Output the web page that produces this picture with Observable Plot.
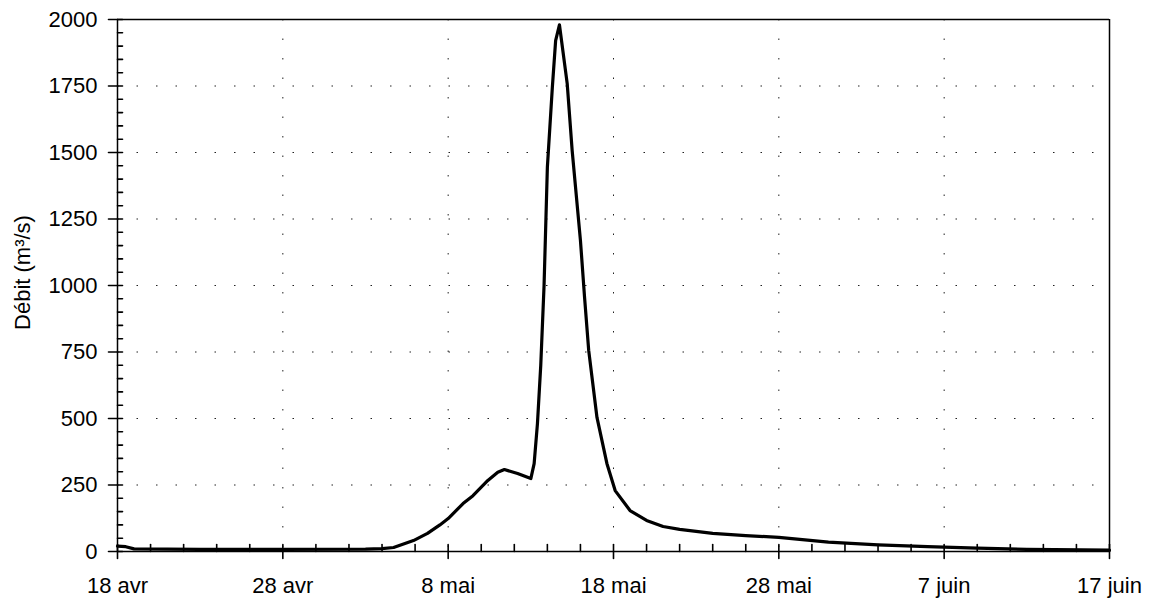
<!DOCTYPE html>
<html><head><meta charset="utf-8">
<script src="https://cdn.jsdelivr.net/npm/d3@7"></script>
<script src="https://cdn.jsdelivr.net/npm/@observablehq/plot@0.6"></script>
<style>body{margin:0;background:#fff;}</style>
</head><body><div id="chart"></div>
<script>
// Days after 18 avril and discharge (m³/s)
const dayOffsets = [0, 0.5, 1, 5, 10, 15, 16, 16.7, 17.9, 18.75, 19.5, 20, 20.9, 21.5, 22.4, 23, 23.4, 24.2, 25.0, 25.2, 25.4, 25.6, 25.8, 26.0, 26.3, 26.5, 26.73, 27.2, 27.5, 28.0, 28.25, 28.5, 29.0, 29.6, 30.1, 31.0, 32.0, 33, 34, 36, 38, 40, 43, 46, 49, 52, 55, 60];
const flows = [20, 18, 10, 8, 8, 9, 11, 15, 41, 68, 100, 124, 180, 210, 267, 298, 308, 293, 274, 330, 481, 700, 1000, 1444, 1744, 1921, 1980, 1759, 1507, 1170, 955, 756, 504, 331, 229, 154, 117, 94, 83, 68, 60, 53, 35, 25, 18, 13, 8, 5];
const xTickDays = [0, 10, 20, 30, 40, 50, 60];
const xTickLabels = ["18 avr", "28 avr", "8 mai", "18 mai", "28 mai", "7 juin", "17 juin"];
const yTicks = [0, 250, 500, 750, 1000, 1250, 1500, 1750, 2000];
const yTickLabels = ["0", "250", "500", "750", "1000", "1250", "1500", "1750", "2000"];
const yLabel = "Débit (m³/s)";

const t0 = Date.UTC(2011, 3, 18);
const toDate = d => new Date(t0 + d * 864e5);
const data = dayOffsets.map((d, i) => ({date: toDate(d), flow: flows[i]}));
const xTickDates = xTickDays.map(toDate);
const labelByTime = new Map(xTickDates.map((d, i) => [+d, xTickLabels[i]]));
const labelByValue = new Map(yTicks.map((v, i) => [v, yTickLabels[i]]));
const xMinorDates = d3.range(0, 61, 2).map(toDate);
const yMinor = d3.range(0, 2001, 50);

const W = 1158, H = 604, mL = 117, mR = 49, mT = 19, mB = 53;
const gridStyle = {stroke: "#222", strokeOpacity: 1, strokeWidth: 1, strokeDasharray: "1.5,18"};
const tickShape = {draw(context, l) { context.moveTo(0, 0); context.lineTo(0, -l); }};
const tickStyle = {anchor: "start", shape: tickShape, stroke: "#000", strokeWidth: 1.6};

const chart = Plot.plot({
  width: W, height: H,
  marginLeft: mL, marginRight: mR, marginTop: mT, marginBottom: mB,
  style: {fontFamily: "'Liberation Sans', Arial, sans-serif", fontSize: "22px", color: "#000", background: "#fff"},
  x: {type: "utc", domain: [xTickDates[0], xTickDates[xTickDates.length - 1]]},
  y: {domain: [0, 2000]},
  marks: [
    Plot.gridY(yTicks.slice(1, -1), gridStyle),
    Plot.gridX(xTickDates.slice(1, -1), gridStyle),
    // minor ticks, pointing inside the frame
    Plot.vector(yMinor, {y: d => d, frameAnchor: "left", length: 5, rotate: 90, ...tickStyle}),
    Plot.vector(xMinorDates, {x: d => d, frameAnchor: "bottom", length: 7, rotate: 0, ...tickStyle}),
    // major ticks, pointing outside
    Plot.vector(yTicks, {y: d => d, frameAnchor: "left", length: 9, rotate: -90, ...tickStyle}),
    Plot.vector(xTickDates, {x: d => d, frameAnchor: "bottom", length: 7, rotate: 180, ...tickStyle}),
    Plot.axisY(yTicks, {tickSize: 0, tickPadding: 20, label: null, fontSize: 22, tickFormat: d => labelByValue.get(d)}),
    Plot.axisX(xTickDates, {tickSize: 0, tickPadding: 26, label: null, fontSize: 22, tickFormat: d => labelByTime.get(+d)}),
    Plot.ruleX([xTickDates[0]], {strokeWidth: 1.5}),
    Plot.ruleX([xTickDates[xTickDates.length - 1]], {strokeWidth: 1.5}),
    Plot.ruleY([0], {strokeWidth: 1.5}),
    Plot.ruleY([2000], {strokeWidth: 1.5}),
    Plot.line(data, {x: "date", y: "flow", stroke: "#000", strokeWidth: 3.2, strokeLinejoin: "round"}),
    Plot.text([yLabel], {frameAnchor: "left", textAnchor: "middle", dx: -95, dy: -13, rotate: -90, fontSize: 22, fill: "#000"})
  ]
});
document.getElementById("chart").append(chart);
</script>
</body></html>
